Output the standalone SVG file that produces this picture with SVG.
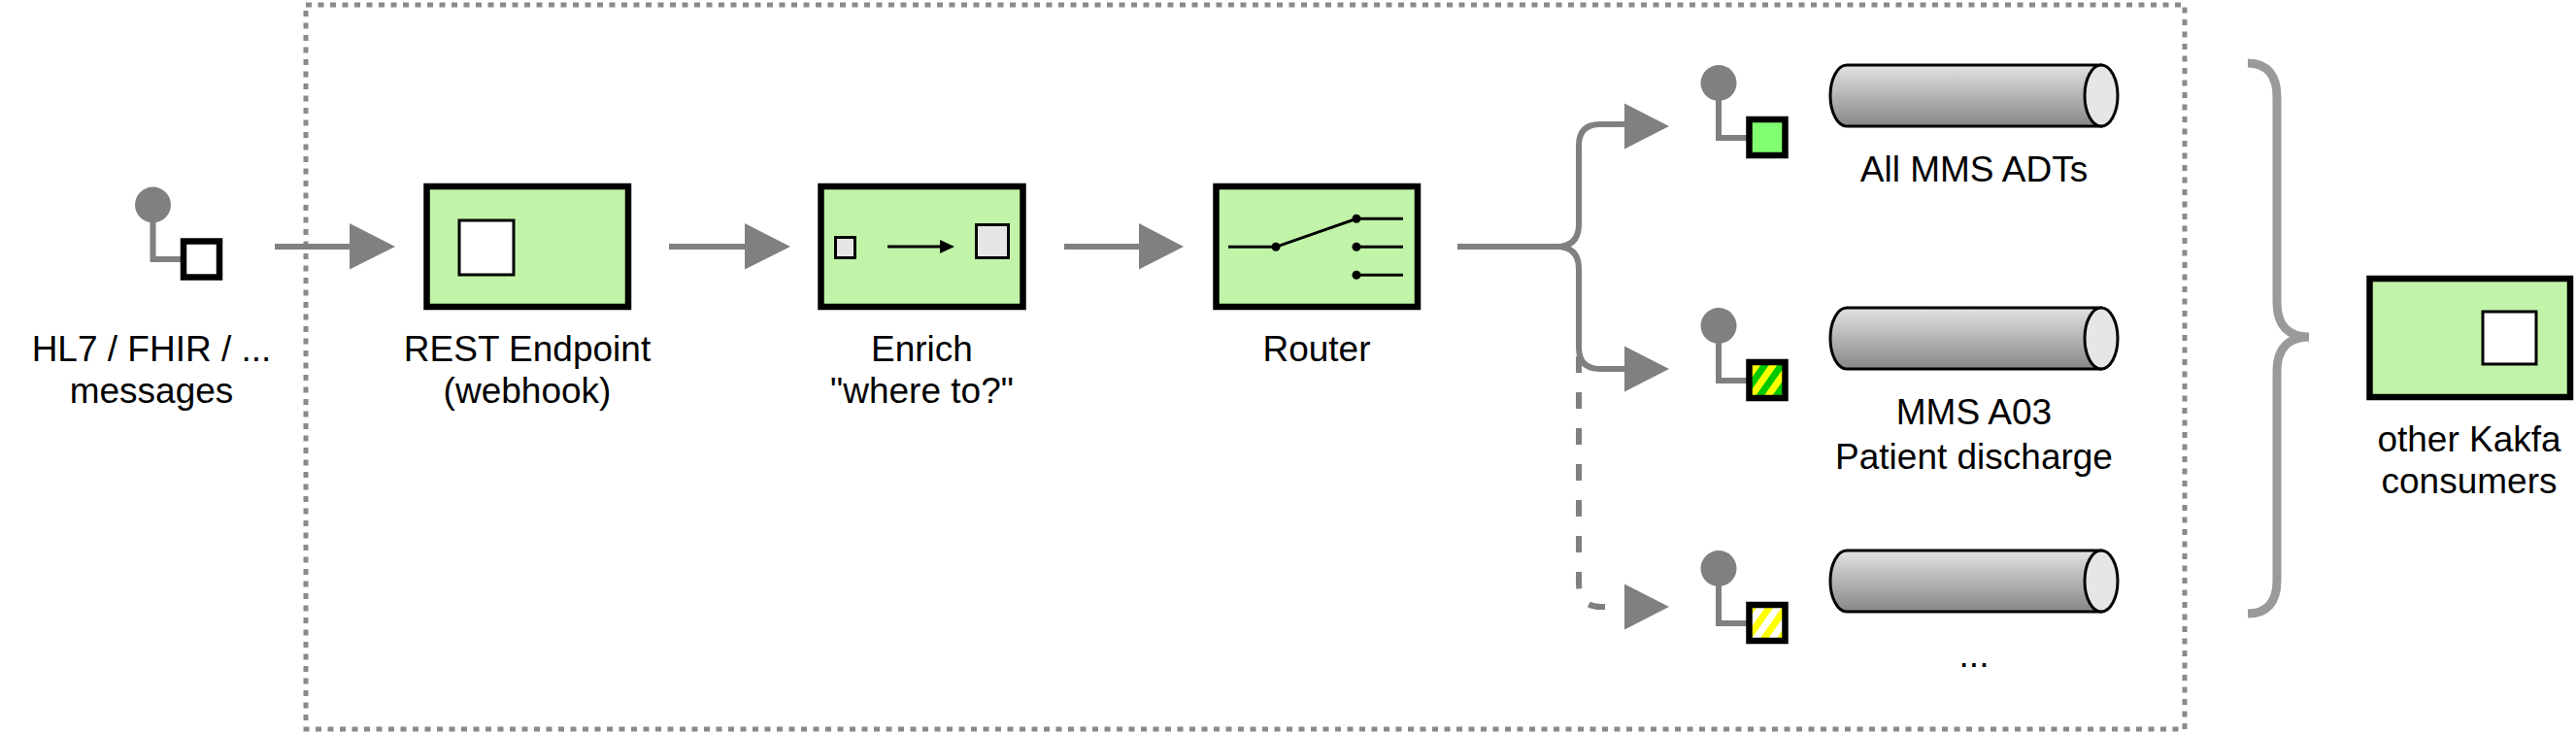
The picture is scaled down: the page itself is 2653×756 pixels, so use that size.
<svg xmlns="http://www.w3.org/2000/svg" width="2653" height="756" viewBox="0 0 2653 756">
<style>
text{font-family:"Liberation Sans",Arial,sans-serif;font-size:37px;fill:#000;text-anchor:middle}
.box{fill:#c1f3a9;stroke:#000;stroke-width:6.5}
.inner{fill:#fff;stroke:#000;stroke-width:3}
.conn{fill:none;stroke:#808080;stroke-width:6}
.head{fill:#808080}
.stem{fill:none;stroke:#808080;stroke-width:6}
.sq{stroke:#000;stroke-width:6.5}
.cyl{fill:url(#cg);stroke:#000;stroke-width:3}
.cap{fill:#e6e6e6;stroke:#000;stroke-width:3}
</style>
<defs>
<linearGradient id="cg" x1="0" y1="0" x2="0" y2="1">
<stop offset="0" stop-color="#e2e2e2"/>
<stop offset="1" stop-color="#878787"/>
</linearGradient>
<pattern id="gy" width="14" height="14" patternUnits="userSpaceOnUse" patternTransform="rotate(35)">
<rect width="14" height="14" fill="#00c800"/>
<rect width="7" height="14" fill="#ffff00"/>
</pattern>
<pattern id="wy" width="14" height="14" patternUnits="userSpaceOnUse" patternTransform="rotate(35)">
<rect width="14" height="14" fill="#ffffff"/>
<rect width="7" height="14" fill="#ffff00"/>
</pattern>
</defs>

<rect id="boundary" x="315" y="5" width="1935" height="746" fill="none" stroke="#8a8a8a" stroke-width="5" stroke-dasharray="6 6.5"/>

<g id="connectors">
<path class="conn" d="M283,254 H362"/>
<polygon class="head" points="360,230 407,254 360,277.5"/>
<path class="conn" d="M689,254 H769"/>
<polygon class="head" points="767,230 814,254 767,277.5"/>
<path class="conn" d="M1096,254 H1175"/>
<polygon class="head" points="1173,230 1219,254 1173,277.5"/>
<path class="conn" d="M1501,254 H1603 Q1626,254 1626,231 V150 Q1626,128 1648,128 H1675"/>
<polygon class="head" points="1673,106.5 1719,130 1673,153.5"/>
<path class="conn" d="M1603,254 Q1626,254 1626,277 V358 Q1626,380 1648,380 H1675"/>
<polygon class="head" points="1673,356.5 1719,380 1673,403.5"/>
<path class="conn" d="M1626,367 V600 Q1626,625 1648,625 H1662" stroke-dasharray="17 20"/>
<polygon class="head" points="1673,601.5 1719,625 1673,648.5"/>
</g>

<g id="source">
<circle cx="157.5" cy="211" r="18.5" fill="#808080"/>
<path class="stem" d="M157.5,225 V267 H190"/>
<rect class="sq" x="189" y="248.5" width="37" height="37" fill="#fff"/>
<text x="156" y="372">HL7 / FHIR / ...</text>
<text x="156" y="415">messages</text>
</g>

<g id="rest">
<rect class="box" x="439.5" y="192" width="207.5" height="124"/>
<rect class="inner" x="473" y="227" width="56" height="56"/>
<text x="543" y="372">REST Endpoint</text>
<text x="543" y="415">(webhook)</text>
</g>

<g id="enrich">
<rect class="box" x="845.5" y="192" width="208" height="124"/>
<rect x="860.5" y="244.5" width="20" height="21" fill="#e6e6e6" stroke="#000" stroke-width="3"/>
<path d="M914,254 H970" stroke="#000" stroke-width="3"/>
<polygon points="968,247 983,254 968,261" fill="#000"/>
<rect x="1005.5" y="231.5" width="33" height="34" fill="#e6e6e6" stroke="#000" stroke-width="3"/>
<text x="949.5" y="372">Enrich</text>
<text x="949.5" y="415">"where to?"</text>
</g>

<g id="router">
<rect class="box" x="1252.5" y="192" width="207.5" height="124"/>
<path d="M1265,254.3 H1314 L1397,225.3 H1445 M1397,254.3 H1445 M1397,283.3 H1445" fill="none" stroke="#000" stroke-width="3"/>
<circle cx="1314" cy="254.3" r="4.5"/>
<circle cx="1397" cy="225.3" r="4.5"/>
<circle cx="1397" cy="254.3" r="4.5"/>
<circle cx="1397" cy="283.3" r="4.5"/>
<text x="1356" y="372">Router</text>
</g>

<g id="channel1">
<circle cx="1770" cy="85.5" r="18.5" fill="#808080"/>
<path class="stem" d="M1770,100 V142 H1802"/>
<rect class="sq" x="1801.5" y="123" width="37" height="37" fill="#80ff70"/>
<path class="cyl" d="M1902,67 H2164 V130 H1902 A17,31.5 0 0 1 1902,67 Z"/>
<ellipse class="cap" cx="2164" cy="98.5" rx="17" ry="31.5"/>
<text x="2033" y="187">All MMS ADTs</text>
</g>

<g id="channel2">
<circle cx="1770" cy="335.5" r="18.5" fill="#808080"/>
<path class="stem" d="M1770,350 V392 H1802"/>
<rect class="sq" x="1801.5" y="373" width="37" height="37" fill="url(#gy)"/>
<path class="cyl" d="M1902,317 H2164 V380 H1902 A17,31.5 0 0 1 1902,317 Z"/>
<ellipse class="cap" cx="2164" cy="348.5" rx="17" ry="31.5"/>
<text x="2033" y="437">MMS A03</text>
<text x="2033" y="483">Patient discharge</text>
</g>

<g id="channel3">
<circle cx="1770" cy="585.5" r="18.5" fill="#808080"/>
<path class="stem" d="M1770,600 V642 H1802"/>
<rect class="sq" x="1801.5" y="623" width="37" height="37" fill="url(#wy)"/>
<path class="cyl" d="M1902,567 H2164 V630 H1902 A17,31.5 0 0 1 1902,567 Z"/>
<ellipse class="cap" cx="2164" cy="598.5" rx="17" ry="31.5"/>
<text x="2033" y="687">...</text>
</g>

<g id="brace">
<path d="M2315,65 C2335,65 2345,78 2345,100 V312 C2345,336 2358,347 2378,347 C2358,347 2345,358 2345,382 V598 C2345,620 2335,632 2315,632" fill="none" stroke="#9a9a9a" stroke-width="9"/>
</g>

<g id="consumers">
<rect class="box" x="2440.5" y="287" width="206.5" height="122"/>
<rect class="inner" x="2557" y="321" width="55" height="54"/>
<text x="2543" y="465">other Kakfa</text>
<text x="2543" y="508">consumers</text>
</g>
</svg>
